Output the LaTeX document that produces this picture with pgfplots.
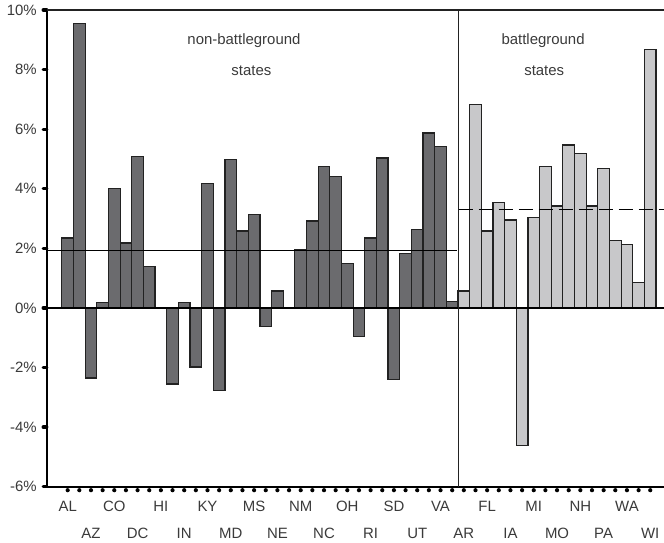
\documentclass[border=0pt]{standalone}
\usepackage{pgfplots}
\pgfplotsset{compat=1.18}
\usepackage{pgfplotstable}
\usepackage{fontspec}
\setmainfont{Liberation Sans}

\definecolor{darkbar}{HTML}{6B6B6E}
\definecolor{lightbar}{HTML}{C8C8CA}
\definecolor{edge}{HTML}{222222}
\definecolor{txt}{HTML}{3A3A3A}

% change in share, non-battleground states
\pgfplotstableread{
idx val
0 2.35
1 9.55
2 -2.35
3 0.18
4 4.00
5 2.18
6 5.09
7 1.39
8 0
9 -2.55
10 0.18
11 -1.98
12 4.17
13 -2.77
14 4.97
15 2.58
16 3.14
17 -0.62
18 0.57
19 0
20 1.96
21 2.92
22 4.74
23 4.41
24 1.49
25 -0.95
26 2.35
27 5.03
28 -2.39
29 1.84
30 2.64
31 5.87
32 5.43
33 0.22
}\nonbg

% change in share, battleground states
\pgfplotstableread{
idx val
34 0.57
35 6.83
36 2.58
37 3.53
38 2.95
39 -4.61
40 3.03
41 4.74
42 3.42
43 5.47
44 5.19
45 3.42
46 4.67
47 2.25
48 2.12
49 0.85
50 8.67
}\bg

\begin{document}
\begin{tikzpicture}
\begin{axis}[
  scale only axis, width=617.3bp, height=476.7bp,
  xmin=-1.8, xmax=51.18, ymin=-6, ymax=10,
  clip=false,
  axis x line*=bottom, axis y line*=left,
  x axis line style={line width=2bp, black},
  y axis line style={line width=2bp, black},
  tick align=outside,
  major tick length=3.5bp, minor tick length=3.5bp,
  ytick={-6,-4,...,10},
  yticklabels={-6\%,-4\%,-2\%,0\%,2\%,4\%,6\%,8\%,10\%},
  ytick style={line width=3.3bp, line cap=round, black},
  yticklabel style={xshift=-3bp},
  xtick={0,4,...,48},
  xticklabels={AL,CO,HI,KY,MS,NM,OH,SD,VA,FL,MI,NH,WA},
  extra x ticks={2,6,...,50},
  extra x tick labels={AZ,DC,IN,MD,NE,NC,RI,UT,AR,IA,MO,PA,WI},
  extra x tick style={xticklabel style={yshift=-27bp}},
  minor xtick={1,3,...,49},
  % one round dot per category
  xtick style={line width=4.2bp, line cap=round, dash pattern=on 0bp off 30bp, black},
  xticklabel style={yshift=-7bp},
  tick label style={font=\fontsize{15}{18}\selectfont, text=txt},
]
\coordinate (bl) at (rel axis cs:0,0);
\coordinate (tr) at (rel axis cs:1,1);

\addplot[ybar, bar width=1, bar shift=0, fill=darkbar, draw=edge, line width=1.2bp]
  table[x=idx, y=val] {\nonbg};
\addplot[ybar, bar width=1, bar shift=0, fill=lightbar, draw=edge, line width=1.2bp]
  table[x=idx, y=val] {\bg};

% zero line, group averages and the divider
\addplot[black, line width=1.5bp] coordinates {(-1.8,0) (51.18,0)};
\addplot[black, line width=1.1bp] coordinates {(-1.8,1.94) (33.4,1.94)};
\addplot[black, line width=1.1bp, dash pattern=on 14bp off 6bp] coordinates {(33.55,3.30) (51.18,3.30)};
\addplot[edge, line width=1.2bp] coordinates {(33.55,-6) (33.55,10)};
\draw[edge, line width=1.2bp] (rel axis cs:0,1) -- (rel axis cs:1,1);

\node[text=txt, font=\fontsize{15}{18}\selectfont] at (axis cs:15.13,8.96) {non-battleground};
\node[text=txt, font=\fontsize{15}{18}\selectfont] at (axis cs:15.77,7.95) {states};
\node[text=txt, font=\fontsize{15}{18}\selectfont] at (axis cs:40.8,8.96) {battleground};
\node[text=txt, font=\fontsize{15}{18}\selectfont] at (axis cs:40.9,7.95) {states};
\end{axis}
\pgfresetboundingbox
\path ([shift={(-46.7bp,-56.3bp)}]bl) rectangle ([shift={(0,10bp)}]tr);
\end{tikzpicture}
\end{document}
